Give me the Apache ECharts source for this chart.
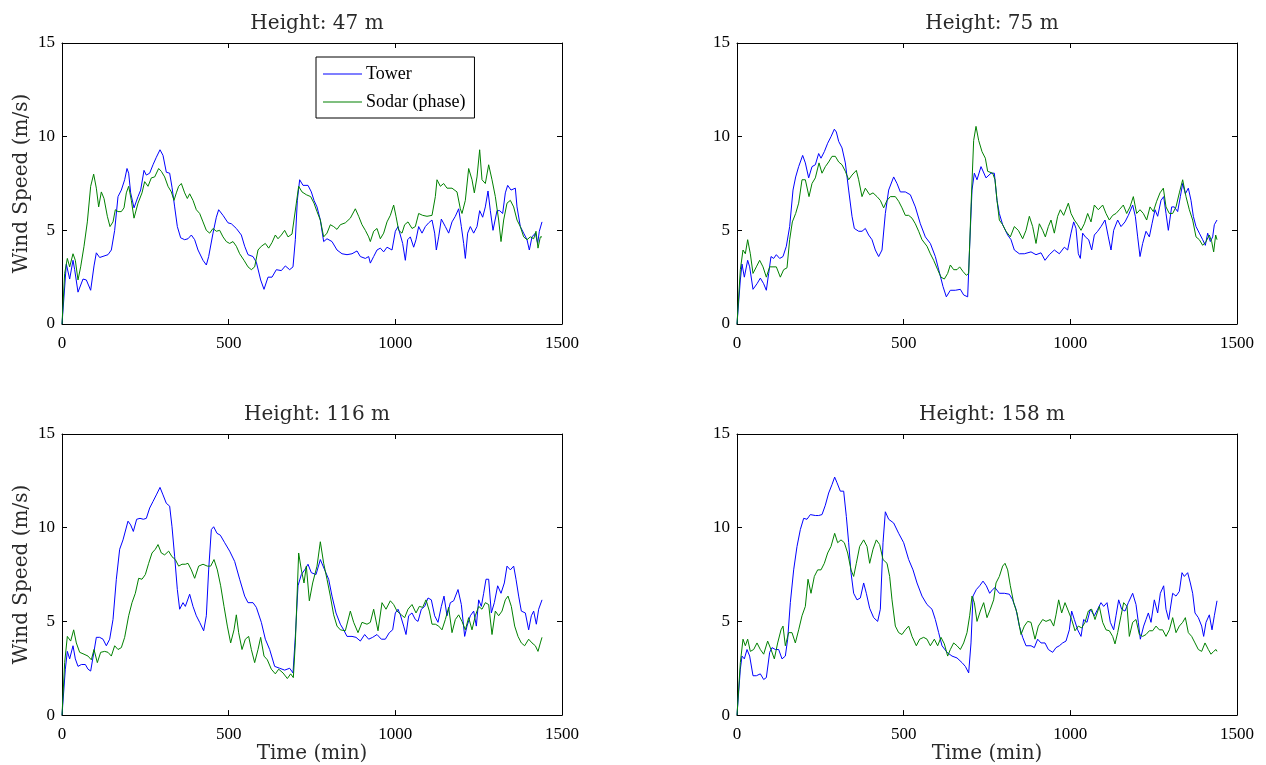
<!DOCTYPE html>
<html>
<head>
<meta charset="utf-8">
<script src="https://cdn.jsdelivr.net/npm/echarts@6/dist/echarts.min.js"></script>
<style>
  html, body { margin: 0; padding: 0; background: #ffffff; }
  #chart { width: 1266px; height: 765px; }
</style>
</head>
<body>
<div id="chart"></div>
<script>
// Measurement heights (m) of the four panels
const heights = [47, 75, 116, 158];
const xTicks = [0, 500, 1000, 1500];
const yTicks = [0, 5, 10, 15];
const seriesNames = ['Tower', 'Sodar (phase)'];

// [time (min), wind speed (m/s)] — 47 m
const tower47 = [[0,0],[13,3.2],[23,2.4],[33,3.4],[38,2.9],[48,1.7],[63,2.4],[73,2.35],[86,1.8],[96,3.1],[103,3.8],[113,3.55],[138,3.7],[148,3.95],[158,5.0],[168,6.8],[178,7.15],[188,7.7],[195,8.3],[200,8.05],[206,7.0],[216,6.2],[228,6.8],[236,7.15],[246,8.2],[253,7.95],[263,8.05],[273,8.5],[283,8.9],[294,9.3],[303,9.0],[313,8.1],[323,8.05],[330,7.3],[338,6.25],[346,5.2],[356,4.6],[368,4.5],[378,4.55],[388,4.75],[398,4.5],[408,3.95],[423,3.4],[433,3.15],[440,3.6],[453,4.85],[463,5.7],[470,6.1],[483,5.8],[498,5.4],[508,5.35],[523,5.1],[538,4.75],[548,4.15],[558,3.7],[573,3.6],[583,3.3],[596,2.35],[606,1.85],[618,2.5],[630,2.5],[643,2.9],[658,2.85],[670,3.1],[683,2.9],[693,3.05],[700,4.5],[706,6.6],[713,7.7],[723,7.4],[738,7.4],[748,7.05],[756,6.6],[765,6.25],[775,5.55],[785,4.4],[795,4.55],[810,4.4],[825,3.95],[840,3.75],[855,3.7],[870,3.75],[885,3.9],[895,3.6],[910,3.5],[920,3.6],[925,3.25],[935,3.6],[945,3.95],[955,4.05],[965,3.85],[975,4.1],[990,3.95],[1000,4.95],[1008,5.2],[1015,4.75],[1022,4.3],[1030,3.4],[1037,4.5],[1045,4.65],[1055,4.1],[1062,4.5],[1070,5.2],[1080,4.85],[1090,5.2],[1100,5.4],[1110,5.55],[1118,4.85],[1123,3.95],[1130,4.65],[1138,5.6],[1150,5.2],[1160,4.85],[1170,5.45],[1180,5.75],[1190,6.15],[1198,5.2],[1205,4.3],[1210,3.5],[1217,4.85],[1225,5.2],[1235,4.85],[1245,5.2],[1253,6.05],[1262,5.7],[1270,6.25],[1278,7.1],[1285,6.05],[1293,5.0],[1305,6.05],[1313,6.05],[1322,5.9],[1330,7.0],[1337,7.4],[1347,7.15],[1360,7.25],[1365,6.25],[1375,5.2],[1385,4.85],[1395,4.5],[1402,3.95],[1410,4.65],[1420,4.85],[1427,4.3],[1432,4.95],[1440,5.45]];
const sodar47 = [[0,0],[8,2.7],[16,3.5],[23,3.05],[33,3.75],[40,3.4],[48,2.35],[56,3.05],[66,4.15],[76,5.45],[86,7.35],[95,8.0],[103,7.25],[110,6.25],[118,7.05],[126,6.7],[136,5.75],[144,5.2],[153,5.45],[160,6.1],[168,6.0],[178,6.0],[186,6.2],[193,7.0],[200,7.35],[208,6.6],[216,5.65],[228,6.45],[240,7.0],[248,7.6],[258,7.35],[268,7.8],[278,7.85],[290,8.3],[298,8.15],[308,7.85],[318,7.35],[328,7.05],[336,6.6],[343,7.0],[350,7.35],[358,7.5],[368,7.0],[376,6.7],[383,6.95],[393,6.6],[403,6.1],[413,5.9],[423,5.45],[433,5.0],[443,4.85],[453,5.1],[463,4.95],[473,5.0],[483,4.65],[493,4.4],[503,4.3],[513,4.4],[523,4.15],[533,3.75],[546,3.4],[558,3.05],[568,2.9],[578,3.05],[588,3.95],[598,4.15],[610,4.3],[620,4.05],[630,4.35],[640,4.75],[648,4.55],[658,4.75],[668,5.0],[678,4.65],[690,4.8],[696,4.8],[703,6.45],[710,7.35],[720,7.05],[733,6.9],[746,6.8],[756,6.45],[765,6.0],[775,5.55],[785,4.65],[795,4.85],[805,5.3],[815,5.2],[825,5.05],[835,5.3],[850,5.4],[865,5.65],[880,6.15],[890,5.75],[900,5.3],[910,5.0],[920,4.65],[925,4.4],[935,4.95],[945,5.1],[955,4.55],[965,4.85],[975,5.45],[985,5.8],[995,6.35],[1002,5.75],[1010,5.0],[1020,4.85],[1028,5.3],[1038,5.45],[1050,5.1],[1060,5.2],[1070,5.9],[1082,5.8],[1095,5.75],[1110,5.8],[1120,6.8],[1125,7.7],[1135,7.35],[1145,7.5],[1155,7.25],[1170,7.25],[1185,7.05],[1195,6.15],[1200,5.9],[1210,6.6],[1220,8.3],[1230,7.7],[1237,7.0],[1245,7.85],[1253,9.3],[1260,7.7],[1270,7.5],[1280,8.5],[1290,7.7],[1300,6.8],[1310,5.55],[1317,4.4],[1325,5.55],[1335,6.45],[1345,6.6],[1355,6.25],[1365,5.55],[1375,5.2],[1385,4.65],[1395,4.5],[1405,4.65],[1415,4.55],[1422,4.95],[1428,4.05],[1435,4.65],[1440,4.65]];

// 75 m
const tower75 = [[0,0],[10,2.35],[15,3.2],[22,2.5],[32,3.4],[38,3.05],[48,1.85],[60,2.15],[70,2.45],[80,2.15],[88,1.8],[95,2.7],[102,3.6],[110,3.5],[118,3.7],[128,3.5],[138,3.6],[148,4.15],[158,5.2],[168,7.15],[176,7.85],[185,8.4],[197,9.0],[205,8.6],[215,7.8],[225,8.4],[235,8.5],[245,9.1],[252,8.85],[262,9.2],[272,9.65],[282,10.0],[292,10.4],[298,10.25],[305,9.75],[315,9.4],[325,8.6],[335,7.15],[345,5.75],[352,5.1],[365,4.95],[375,4.95],[385,5.1],[395,4.75],[405,4.5],[415,3.95],[425,3.6],[435,3.95],[445,5.9],[455,7.15],[470,7.85],[480,7.5],[490,7.05],[505,7.05],[520,6.9],[535,6.25],[550,5.35],[565,4.65],[580,4.3],[595,3.6],[608,2.7],[618,2.0],[628,1.45],[640,1.8],[655,1.8],[670,1.85],[680,1.55],[692,1.45],[698,4.15],[705,7.15],[712,8.05],[720,7.7],[732,8.4],[747,7.8],[762,8.05],[772,8.05],[780,6.6],[787,5.9],[797,5.3],[812,4.75],[822,4.5],[832,3.95],[847,3.75],[862,3.75],[882,3.85],[897,3.7],[912,3.8],[924,3.4],[937,3.7],[952,3.95],[967,3.75],[982,4.1],[992,3.95],[1002,4.85],[1010,5.45],[1017,5.1],[1024,3.75],[1030,3.5],[1037,4.85],[1045,4.65],[1055,4.5],[1064,3.95],[1072,4.75],[1082,4.95],[1092,5.2],[1104,5.55],[1114,4.65],[1122,3.95],[1130,5.0],[1142,5.55],[1152,5.2],[1164,5.45],[1174,5.8],[1187,6.35],[1195,5.75],[1202,4.65],[1209,3.6],[1217,4.3],[1227,4.95],[1237,4.65],[1245,5.35],[1254,6.1],[1262,5.75],[1272,6.6],[1280,6.8],[1287,5.9],[1294,5.0],[1304,6.25],[1312,6.25],[1322,6.0],[1330,6.8],[1337,7.5],[1345,6.95],[1354,7.25],[1362,6.6],[1369,5.75],[1377,5.2],[1387,4.85],[1397,4.5],[1405,4.2],[1412,4.85],[1420,4.4],[1427,4.65],[1432,5.3],[1440,5.55]];
const sodar75 = [[0,0],[10,2.9],[18,3.95],[25,3.75],[32,4.5],[40,3.75],[48,2.7],[58,3.05],[68,3.4],[78,3.05],[88,2.5],[98,3.05],[108,3.05],[118,3.05],[130,2.5],[140,2.9],[150,3.0],[158,4.5],[166,5.45],[176,5.9],[185,6.45],[195,7.7],[205,7.7],[216,6.8],[225,7.5],[235,7.8],[246,8.6],[255,8.05],[265,8.4],[275,8.65],[285,8.95],[295,8.95],[305,8.65],[315,8.5],[325,8.15],[335,7.7],[345,7.95],[358,8.2],[365,7.7],[375,6.8],[385,7.25],[398,6.9],[408,7.0],[420,6.8],[430,6.6],[440,6.2],[450,6.6],[460,6.8],[475,6.8],[485,6.55],[495,6.2],[505,5.8],[515,5.8],[525,5.65],[535,5.35],[545,4.95],[555,4.5],[570,4.15],[580,3.75],[590,3.4],[602,2.9],[612,2.5],[622,2.4],[632,2.7],[640,3.15],[650,2.9],[660,2.9],[668,3.05],[678,2.8],[688,2.6],[695,2.7],[702,6.25],[710,9.8],[717,10.55],[725,9.8],[735,9.2],[745,8.85],[752,8.15],[767,8.05],[774,7.7],[780,6.6],[787,5.55],[797,5.3],[807,4.95],[820,4.65],[832,5.2],[844,5.0],[857,4.55],[867,5.0],[877,5.75],[887,5.2],[897,4.3],[907,5.35],[917,5.0],[925,4.65],[934,5.2],[942,5.55],[952,4.85],[962,5.75],[970,6.1],[980,5.8],[994,6.45],[1002,5.9],[1012,5.55],[1022,5.3],[1032,5.0],[1042,5.35],[1052,5.9],[1062,5.45],[1072,6.35],[1084,6.1],[1097,6.35],[1107,5.9],[1117,5.55],[1127,5.8],[1137,5.9],[1147,6.1],[1159,6.35],[1169,5.9],[1179,6.25],[1189,6.8],[1199,5.9],[1209,6.1],[1219,5.9],[1229,5.55],[1239,6.25],[1249,6.0],[1259,6.55],[1269,7.0],[1279,7.25],[1287,6.25],[1297,5.9],[1307,5.9],[1317,6.25],[1327,7.0],[1337,7.7],[1347,6.8],[1357,6.1],[1367,5.55],[1377,4.65],[1387,4.5],[1397,4.2],[1407,4.4],[1417,4.75],[1424,4.4],[1430,3.85],[1436,4.75],[1440,4.5]];

// 116 m
const tower116 = [[0,0],[10,2.45],[16,3.4],[23,3.0],[33,3.7],[40,3.0],[48,2.6],[58,2.7],[70,2.7],[78,2.45],[86,2.35],[96,3.4],[103,4.15],[113,4.15],[123,4.05],[133,3.7],[143,4.05],[153,5.1],[163,7.25],[173,8.85],[183,9.35],[198,10.35],[206,10.15],[214,9.8],[224,10.45],[234,10.5],[244,10.45],[253,10.5],[263,11.05],[273,11.4],[283,11.75],[294,12.15],[303,11.75],[313,11.3],[323,11.15],[330,10.05],[338,8.45],[346,6.7],[353,5.65],[363,6.0],[370,5.8],[383,6.45],[393,5.8],[403,5.3],[413,4.95],[425,4.5],[433,5.3],[440,7.75],[448,9.9],[455,10.05],[465,9.7],[475,9.6],[488,9.2],[503,8.75],[518,8.2],[533,7.25],[548,6.35],[558,6.0],[573,6.0],[583,5.75],[598,4.95],[610,4.05],[623,3.5],[638,2.6],[653,2.5],[668,2.4],[683,2.5],[693,2.25],[700,4.2],[708,6.9],[718,7.5],[728,7.75],[738,8.05],[748,7.6],[762,7.5],[775,8.3],[788,7.75],[800,7.25],[810,6.35],[822,5.45],[835,4.85],[845,4.55],[855,4.2],[870,4.2],[882,4.15],[895,3.95],[908,4.3],[920,4.05],[932,4.15],[945,4.3],[958,4.05],[970,4.05],[982,4.4],[992,4.55],[1000,5.45],[1008,5.65],[1015,5.35],[1025,4.75],[1032,4.3],[1040,5.3],[1050,5.45],[1060,5.1],[1068,5.0],[1078,5.65],[1088,5.8],[1098,6.25],[1108,6.15],[1118,5.3],[1128,4.95],[1138,5.8],[1146,6.35],[1155,5.3],[1165,6.0],[1175,6.1],[1188,6.7],[1198,5.9],[1208,4.2],[1215,4.75],[1225,5.3],[1235,5.55],[1243,4.75],[1250,6.15],[1258,5.8],[1265,6.5],[1272,7.25],[1280,7.25],[1288,5.45],[1297,6.0],[1307,6.9],[1317,6.5],[1327,7.05],[1335,7.95],[1345,7.75],[1355,7.95],[1362,7.25],[1370,6.35],[1378,5.55],[1390,5.45],[1400,4.55],[1408,5.3],[1415,5.55],[1423,4.85],[1430,5.65],[1440,6.15]];
const sodar116 = [[0,0],[8,2.8],[16,4.2],[26,3.95],[35,4.55],[43,3.85],[53,3.35],[66,3.25],[78,3.15],[88,2.95],[96,3.5],[106,2.8],[116,3.35],[128,3.4],[138,3.35],[148,3.15],[158,3.7],[168,3.5],[178,3.6],[188,4.15],[200,5.3],[210,6.0],[220,6.5],[230,7.3],[240,7.25],[250,7.5],[260,8.1],[270,8.65],[280,8.85],[288,9.1],[298,8.65],[308,8.55],[320,8.75],[330,8.45],[340,8.3],[350,7.95],[360,8.05],[370,8.05],[378,8.1],[388,7.75],[398,7.3],[410,7.95],[423,8.05],[436,7.95],[446,7.95],[456,8.3],[466,7.75],[476,6.9],[486,5.8],[496,4.75],[506,3.85],[516,4.55],[523,5.35],[530,4.4],[540,3.5],[550,4.05],[560,4.2],[568,3.5],[578,2.8],[588,3.5],[596,4.15],[606,3.15],[616,2.95],[628,2.45],[640,2.2],[650,2.45],[663,2.25],[676,1.95],[686,2.2],[694,2.0],[700,3.85],[710,8.65],[718,7.75],[726,7.05],[733,7.95],[742,6.1],[752,7.05],[765,7.95],[775,9.25],[785,8.1],[795,7.25],[805,6.35],[815,5.35],[825,4.75],[835,4.55],[850,4.5],[865,5.55],[875,4.95],[888,4.4],[900,4.95],[915,4.85],[925,4.95],[935,5.65],[948,4.5],[960,6.0],[972,5.65],[985,6.1],[995,5.9],[1005,5.55],[1018,5.35],[1028,5.2],[1038,5.65],[1050,5.9],[1062,5.45],[1072,5.8],[1082,5.75],[1092,6.15],[1102,5.55],[1110,4.85],[1120,4.85],[1130,4.75],[1140,4.55],[1150,5.1],[1160,5.75],[1170,4.4],[1180,5.1],[1190,5.35],[1200,5.0],[1210,4.55],[1220,5.2],[1230,4.55],[1240,5.3],[1250,5.8],[1260,5.65],[1270,6.0],[1280,5.9],[1290,4.3],[1300,5.55],[1310,5.3],[1320,5.55],[1330,6.15],[1338,6.35],[1348,5.8],[1358,4.75],[1368,4.2],[1378,3.85],[1388,3.7],[1400,4.05],[1410,3.85],[1420,3.7],[1428,3.4],[1435,3.85],[1440,4.15]];

// 158 m
const tower158 = [[0,0],[10,2.45],[15,3.15],[22,3.0],[30,3.5],[38,3.15],[48,2.1],[58,2.1],[70,2.2],[80,1.9],[88,2.0],[98,3.35],[105,3.6],[115,3.5],[125,3.5],[135,3.0],[145,3.15],[152,4.05],[160,6.0],[170,7.75],[180,9.0],[190,9.9],[200,10.5],[210,10.45],[220,10.7],[235,10.65],[245,10.65],[255,10.7],[265,11.2],[275,11.85],[285,12.3],[293,12.7],[300,12.4],[310,11.95],[320,11.95],[328,10.6],[335,9.2],[342,7.6],[350,6.5],[360,6.15],[370,6.25],[380,7.05],[388,6.5],[398,5.7],[410,5.2],[422,5.0],[430,5.65],[438,9.2],[445,10.85],[455,10.45],[470,10.25],[485,9.7],[500,9.2],[515,8.3],[528,7.75],[540,7.05],[555,6.35],[570,5.9],[585,5.65],[595,5.1],[605,4.4],[615,3.7],[630,3.35],[645,3.15],[660,3.05],[675,2.8],[685,2.6],[695,2.25],[702,3.85],[708,6.35],[718,6.7],[728,6.9],[738,7.15],[748,6.9],[758,6.5],[767,6.7],[774,6.8],[787,6.5],[802,6.5],[817,6.45],[827,6.15],[837,5.65],[847,4.75],[857,4.15],[867,3.7],[882,3.7],[892,3.6],[902,4.05],[912,3.85],[924,3.85],[934,3.5],[947,3.35],[957,3.6],[967,3.7],[977,3.85],[987,3.95],[997,4.55],[1004,5.55],[1012,5.1],[1022,4.55],[1032,4.2],[1040,5.1],[1050,4.95],[1060,5.65],[1072,5.3],[1082,5.65],[1092,6.0],[1100,5.8],[1110,6.0],[1120,4.95],[1130,4.55],[1137,5.3],[1145,6.15],[1154,5.65],[1164,5.55],[1174,6.0],[1187,6.5],[1197,5.9],[1204,4.95],[1210,4.05],[1220,4.75],[1227,5.1],[1234,5.45],[1242,4.95],[1252,6.15],[1262,5.45],[1270,6.5],[1280,6.9],[1287,5.65],[1295,5.1],[1307,6.5],[1317,6.35],[1327,6.6],[1335,7.6],[1342,7.4],[1352,7.6],[1360,7.05],[1367,6.5],[1374,5.45],[1384,5.2],[1394,4.75],[1400,4.2],[1407,4.95],[1417,5.35],[1425,4.55],[1432,5.3],[1440,6.1]];
const sodar158 = [[0,0],[10,2.8],[18,4.05],[25,3.7],[32,4.05],[40,3.4],[50,3.5],[60,3.85],[70,3.5],[80,3.25],[92,3.95],[102,3.5],[112,3.0],[122,3.85],[132,4.55],[138,4.75],[145,3.7],[155,4.4],[165,4.4],[175,3.85],[185,4.55],[195,5.3],[205,5.8],[213,7.25],[222,6.5],[232,7.4],[242,7.75],[252,7.75],[262,8.1],[272,8.65],[282,9.0],[293,9.7],[302,9.2],[312,9.35],[322,9.2],[332,8.65],[342,7.75],[350,7.4],[358,8.1],[368,9.0],[380,9.35],[390,9.0],[398,8.1],[408,8.85],[418,9.35],[428,9.1],[438,8.3],[450,8.1],[458,7.4],[465,6.15],[475,4.75],[485,4.4],[495,4.3],[505,4.55],[515,4.75],[525,4.2],[538,3.7],[548,4.05],[560,4.15],[570,4.05],[580,3.7],[592,4.05],[602,3.7],[612,4.15],[622,3.8],[632,3.15],[640,3.5],[650,3.85],[660,3.7],[670,3.5],[680,3.85],[690,4.4],[698,5.3],[705,6.35],[712,6.0],[720,5.0],[730,5.55],[740,6.0],[750,5.2],[760,5.65],[770,6.15],[777,7.05],[787,7.4],[797,7.95],[804,8.1],[812,7.75],[820,6.9],[830,6.0],[840,5.45],[852,4.3],[862,4.75],[872,5.0],[882,4.95],[894,4.05],[904,4.75],[917,5.1],[927,5.0],[940,5.1],[950,4.75],[957,5.35],[965,6.15],[974,5.45],[984,6.0],[994,5.55],[1004,5.1],[1014,4.5],[1024,4.75],[1034,4.65],[1044,4.95],[1054,5.55],[1064,5.65],[1074,5.1],[1087,5.8],[1097,4.95],[1107,4.55],[1117,4.5],[1127,4.2],[1134,3.8],[1142,4.4],[1152,5.3],[1160,6.0],[1170,5.8],[1177,4.2],[1187,4.95],[1197,5.1],[1207,4.3],[1217,4.2],[1227,4.3],[1237,4.5],[1247,4.5],[1257,4.75],[1267,4.55],[1277,4.55],[1287,4.2],[1297,4.55],[1307,5.2],[1317,4.4],[1327,4.75],[1337,4.95],[1345,5.2],[1354,4.4],[1364,4.2],[1374,3.85],[1384,3.5],[1394,3.4],[1404,3.85],[1414,3.5],[1422,3.25],[1430,3.4],[1437,3.5],[1440,3.4]];

const towerData = [tower47, tower75, tower116, tower158];
const sodarData = [sodar47, sodar75, sodar116, sodar158];

// Plot area of each subplot (2 x 2 layout)
const panels = [
  { left: 62,  top: 43,  width: 500, height: 281 },
  { left: 737, top: 43,  width: 500, height: 281 },
  { left: 62,  top: 434, width: 500, height: 282 },
  { left: 737, top: 434, width: 500, height: 282 }
];

const BLUE = '#0000ff';
const GREEN = '#008000';
const TICK_FONT = 'Liberation Serif, Times New Roman, serif';
const LABEL_FONT = 'DejaVu Serif, serif';
const LABEL_COLOR = '#2a2a2a';

const lineAxisStyle = { show: true, onZero: false, lineStyle: { color: '#000', width: 1 } };
const tickStyle = { show: true, inside: true, length: 5, lineStyle: { color: '#000', width: 1 } };
const plainNumber = v => String(v);

const grid = [], xAxis = [], yAxis = [], series = [], title = [];

panels.forEach((p, i) => {
  grid.push({ left: p.left, top: p.top, width: p.width, height: p.height, containLabel: false });
  const isBottom = i >= 2;
  const isLeft = i % 2 === 0;

  // bottom x axis with labels
  xAxis.push({
    type: 'value', gridIndex: i, position: 'bottom',
    min: xTicks[0], max: xTicks[xTicks.length - 1], interval: xTicks[1] - xTicks[0],
    axisLine: lineAxisStyle, axisTick: tickStyle, splitLine: { show: false },
    axisLabel: { margin: 11, fontFamily: TICK_FONT, fontSize: 17, color: '#000', formatter: plainNumber },
    name: isBottom ? 'Time (min)' : '', nameLocation: 'middle', nameGap: 24,
    nameTextStyle: { fontFamily: LABEL_FONT, fontSize: 20, color: LABEL_COLOR }
  });
  // top x axis: box edge with mirrored ticks
  xAxis.push({
    type: 'value', gridIndex: i, position: 'top',
    min: xTicks[0], max: xTicks[xTicks.length - 1], interval: xTicks[1] - xTicks[0],
    axisLine: lineAxisStyle, axisTick: tickStyle, splitLine: { show: false },
    axisLabel: { show: false }
  });
  // left y axis with labels
  yAxis.push({
    type: 'value', gridIndex: i, position: 'left',
    min: yTicks[0], max: yTicks[yTicks.length - 1], interval: yTicks[1] - yTicks[0],
    axisLine: lineAxisStyle, axisTick: tickStyle, splitLine: { show: false },
    axisLabel: { margin: 7, fontFamily: TICK_FONT, fontSize: 17, color: '#000', formatter: plainNumber },
    name: isLeft ? 'Wind Speed (m/s)' : '', nameLocation: 'middle', nameGap: 30, nameRotate: 90,
    nameTextStyle: { fontFamily: LABEL_FONT, fontSize: 20, color: LABEL_COLOR }
  });
  // right y axis: box edge with mirrored ticks
  yAxis.push({
    type: 'value', gridIndex: i, position: 'right',
    min: yTicks[0], max: yTicks[yTicks.length - 1], interval: yTicks[1] - yTicks[0],
    axisLine: lineAxisStyle, axisTick: tickStyle, splitLine: { show: false },
    axisLabel: { show: false }
  });

  title.push({
    text: 'Height: ' + heights[i] + ' m',
    left: p.left + p.width / 2, top: p.top - 34, textAlign: 'center',
    textStyle: { fontFamily: LABEL_FONT, fontSize: 20, fontWeight: 'normal', color: LABEL_COLOR }
  });

  series.push({
    name: seriesNames[0], type: 'line', xAxisIndex: 2 * i, yAxisIndex: 2 * i,
    data: towerData[i], symbol: 'none', showSymbol: false,
    lineStyle: { color: BLUE, width: 1 }, itemStyle: { color: BLUE }
  });
  series.push({
    name: seriesNames[1], type: 'line', xAxisIndex: 2 * i, yAxisIndex: 2 * i,
    data: sodarData[i], symbol: 'none', showSymbol: false,
    lineStyle: { color: GREEN, width: 1 }, itemStyle: { color: GREEN }
  });
});

const chart = echarts.init(document.getElementById('chart'), null, { renderer: 'canvas' });
chart.setOption({
  backgroundColor: '#ffffff',
  animation: false,
  title: title,
  legend: {
    data: seriesNames, orient: 'vertical', left: 316, top: 57,
    backgroundColor: '#ffffff', borderColor: '#000', borderWidth: 1, borderRadius: 0,
    padding: [8, 9, 7, 7], itemGap: 10, itemWidth: 39, itemHeight: 1, icon: 'rect',
    selectedMode: false,
    textStyle: { fontFamily: TICK_FONT, fontSize: 18, color: '#000', padding: [0, 0, 0, -1] }
  },
  grid: grid,
  xAxis: xAxis,
  yAxis: yAxis,
  series: series
});
</script>
</body>
</html>
